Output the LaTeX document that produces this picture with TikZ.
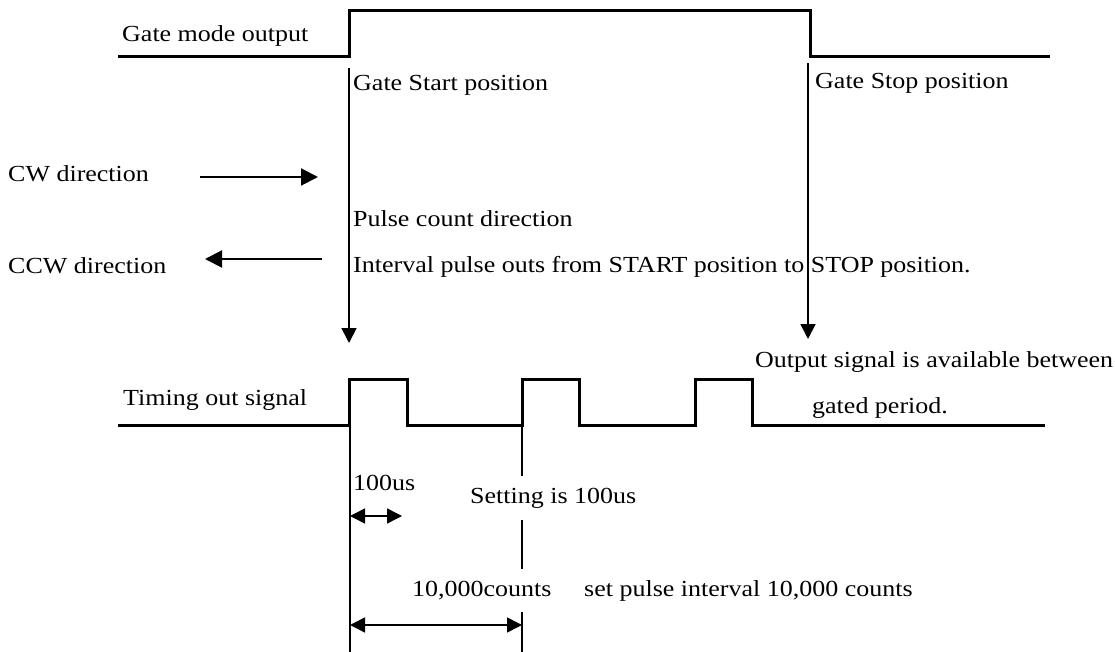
\documentclass[tikz,border=0pt]{standalone}
\usepackage{fontspec}
\setmainfont{Liberation Serif}[FakeStretch=1.13]
\usetikzlibrary{arrows.meta}

\begin{document}
\begin{tikzpicture}[x=1pt, y=-1pt,
  every node/.style={font=\fontsize{23}{27}\selectfont, inner sep=0pt, anchor=base west},
  sig/.style={line width=3pt},
  posarrow/.style={line width=1.8pt, arrows=-{Triangle[length=15pt,width=15pt]}},
  dirarrow/.style={line width=2pt, arrows=-{Triangle[length=17pt,width=17pt]}},
  guide/.style={line width=1.2pt},
  dimarrow/.style={line width=1.5pt, arrows={Triangle[length=15pt,width=15pt]-Triangle[length=15pt,width=15pt]}},
  gap/.style={fill=white, inner ysep=12pt}]
\useasboundingbox (0,0) rectangle (1115,652);

% gate mode output
\draw[sig] (118,57) -- (349,57) -- (349,11) -- (810,11) -- (810,57) -- (1050,57);
\node (gatemode) at (122,42) {Gate mode output};

% start / stop positions
\coordinate (starttop) at (349,68);
\coordinate (starttip) at (349,343);
\coordinate (stoptop) at (808,63);
\coordinate (stoptip) at (808,339);
\draw[posarrow] (starttop) -- (starttip);
\draw[posarrow] (stoptop) -- (stoptip);
\node (gatestart) at (353,91) {Gate Start position};
\node (gatestop) at (815,89) {Gate Stop position};

% directions
\node (cw) at (8,182) {CW direction};
\node (ccw) at (8,273) {CCW direction};
\coordinate (cwa) at (200,177);
\coordinate (cwb) at (318,177);
\coordinate (ccwa) at (322,259);
\coordinate (ccwb) at (205,259);
\draw[dirarrow] (cwa) -- (cwb);
\draw[dirarrow] (ccwa) -- (ccwb);
\node (pulsedir) at (353,227) {Pulse count direction};
\node (interval) at (353,272) {Interval pulse outs from START position to STOP position.};

% timing out signal
\draw[sig] (118,425) -- (349,425) -- (349,379) -- (407,379) -- (407,425)
  -- (522,425) -- (522,379) -- (579,379) -- (579,425)
  -- (695,425) -- (695,379) -- (752,379) -- (752,425) -- (1045,425);
\node (timing) at (123,405) {Timing out signal};
\node (outsig) at (755,367) {Output signal is available between};
\node (gated) at (812,413) {gated period.};

% intervals
\coordinate (ga) at (350,425);
\coordinate (gb) at (350,652);
\coordinate (gc) at (522,425);
\coordinate (gd) at (522,652);
\draw[guide] (ga) -- (gb);
\draw[guide] (gc) -- (gd);
\node (us) at (353,490) {100us};
\node[gap] (setting) at (470,503) {Setting is 100us};
\node[gap] (counts) at (412,596) {10,000counts};
\node (setint) at (584,596) {set pulse interval 10,000 counts};
\coordinate (usa) at (350,516);
\coordinate (usb) at (402,516);
\coordinate (cta) at (350,625);
\coordinate (ctb) at (522,625);
\draw[dimarrow] (usa) -- (usb);
\draw[dimarrow] (cta) -- (ctb);
\end{tikzpicture}
\end{document}
